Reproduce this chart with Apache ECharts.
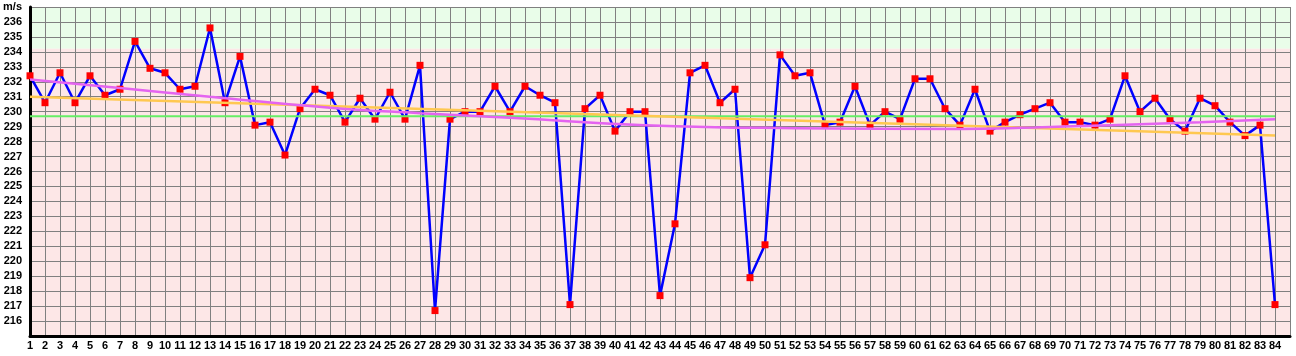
<!DOCTYPE html>
<html>
<head>
<meta charset="utf-8">
<style>
  html, body { margin: 0; padding: 0; background: #ffffff; }
  #chart { width: 1296px; height: 356px; }
</style>
<script src="https://cdn.jsdelivr.net/npm/echarts@6/dist/echarts.min.js"></script>
</head>
<body>
<div id="chart"></div>
<script>
// ---- data ----
const categories = Array.from({length: 84}, (_, i) => i + 1);
const speeds = [
  232.4, 230.6, 232.6, 230.6, 232.4, 231.1, 231.5, 234.7, 232.9, 232.6,
  231.5, 231.7, 235.6, 230.6, 233.7, 229.1, 229.3, 227.1, 230.2, 231.5,
  231.1, 229.3, 230.9, 229.5, 231.3, 229.5, 233.1, 216.7, 229.5, 230.0,
  230.0, 231.7, 230.0, 231.7, 231.1, 230.6, 217.1, 230.2, 231.1, 228.7,
  230.0, 230.0, 217.7, 222.5, 232.6, 233.1, 230.6, 231.5, 218.9, 221.1,
  233.8, 232.4, 232.6, 229.1, 229.3, 231.7, 229.1, 230.0, 229.5, 232.2,
  232.2, 230.2, 229.1, 231.5, 228.7, 229.3, 229.8, 230.2, 230.6, 229.3,
  229.3, 229.1, 229.5, 232.4, 230.0, 230.9, 229.5, 228.7, 230.9, 230.4,
  229.3, 228.4, 229.1, 217.1
];
// reference level (green), linear trend (orange) and smoothed trend (magenta)
const refLevel = [[1, 229.7], [84, 229.7]];
const linearTrend = [[1, 231.0], [84, 228.4]];
const curveTrend = [
  [1, 232.15], [7, 231.58], [13, 231.0], [21, 230.27], [27, 229.9],
  [33, 229.6], [42, 229.1], [52, 228.9], [63, 228.85], [68, 228.95],
  [73, 229.1], [79, 229.3], [84, 229.5]
];
// background bands (value ranges)
const bands = [
  {from: 234.2, to: 237, color: '#e9fde9'},
  {from: 215, to: 234.2, color: '#fde7e7'}
];
const yMin = 215, yMax = 237, xMin = 1, xMax = 85;
const yUnit = 'm/s';

const chart = echarts.init(document.getElementById('chart'), null, {renderer: 'canvas'});
const labelFont = {color: '#000', fontWeight: 'bold', fontSize: 11, fontFamily: 'Liberation Sans, Arial, sans-serif'};

chart.setOption({
  animation: false,
  backgroundColor: '#ffffff',
  grid: {left: 30, right: 6, top: 7, bottom: 20, containLabel: false},
  xAxis: {
    type: 'value', min: xMin, max: xMax, interval: 1,
    axisLine: {show: true, lineStyle: {color: '#000', width: 3}},
    axisTick: {show: false},
    axisLabel: Object.assign({margin: 4, formatter: v => (categories.indexOf(v) >= 0 ? String(v) : '')}, labelFont),
    splitLine: {show: true, lineStyle: {color: '#808080', width: 1}}
  },
  yAxis: {
    type: 'value', min: yMin, max: yMax, interval: 1,
    axisLine: {show: true, lineStyle: {color: '#000', width: 3}},
    axisTick: {show: false},
    axisLabel: Object.assign({margin: 8, formatter: v => (v === yMax ? yUnit : (v === yMin ? '' : String(v)))}, labelFont),
    splitLine: {show: true, lineStyle: {color: '#808080', width: 1}}
  },
  series: [
    {
      type: 'line', data: [], z: -1, silent: true,
      markArea: {
        silent: true, z: -1,
        data: bands.map(b => [{yAxis: b.from, itemStyle: {color: b.color, opacity: 1}}, {yAxis: b.to}])
      }
    },
    {
      type: 'line', z: 3,
      data: categories.map((c, i) => [c, speeds[i]]),
      symbol: 'rect', symbolSize: 7,
      itemStyle: {color: '#ff0000'},
      lineStyle: {color: '#0000ff', width: 2.5}
    },
    {
      type: 'line', z: 4, data: refLevel, symbol: 'none',
      lineStyle: {color: '#66ee66', width: 2}
    },
    {
      type: 'line', z: 4, data: linearTrend, symbol: 'none',
      lineStyle: {color: '#ffc850', width: 2.5}
    },
    {
      type: 'line', z: 4, data: curveTrend, symbol: 'none', smooth: true,
      lineStyle: {color: '#e464f0', width: 2.5}
    }
  ]
});
</script>
</body>
</html>
